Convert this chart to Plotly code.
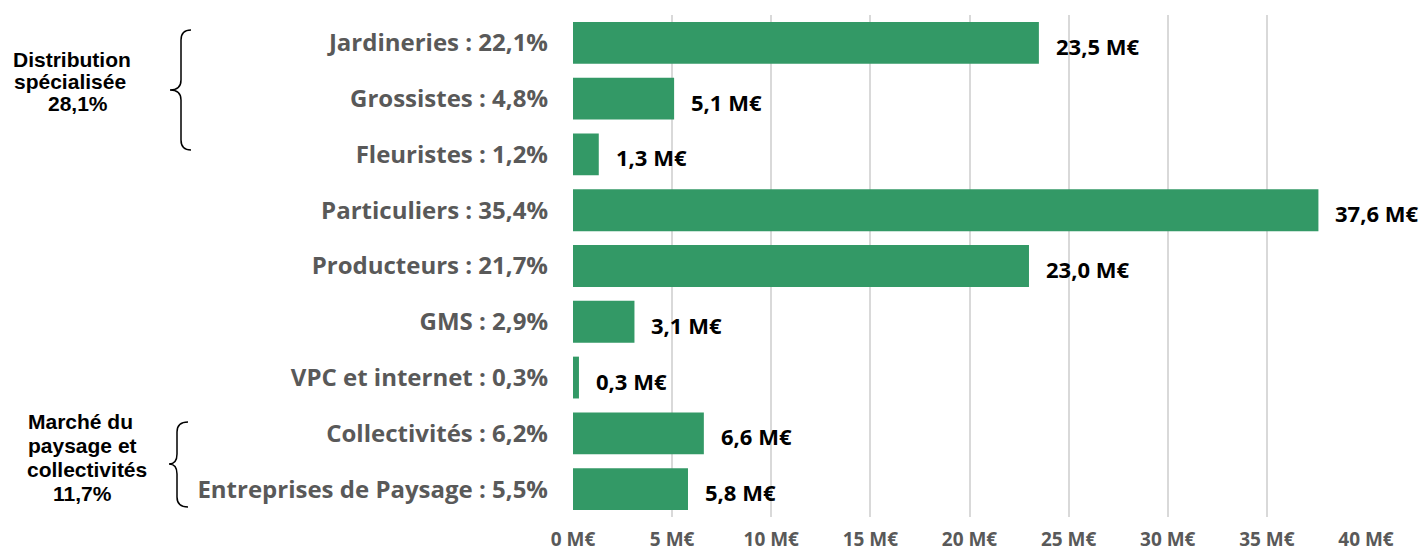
import plotly.graph_objects as go

categories = ["Jardineries : 22,1%", "Grossistes : 4,8%", "Fleuristes : 1,2%",
              "Particuliers : 35,4%", "Producteurs : 21,7%", "GMS : 2,9%",
              "VPC et internet : 0,3%", "Collectivités : 6,2%",
              "Entreprises de Paysage : 5,5%"]
values = [23.5, 5.1, 1.3, 37.6, 23.0, 3.1, 0.3, 6.6, 5.8]
value_labels = ["23,5 M€", "5,1 M€", "1,3 M€", "37,6 M€", "23,0 M€",
                "3,1 M€", "0,3 M€", "6,6 M€", "5,8 M€"]
tick_vals = [0, 5, 10, 15, 20, 25, 30, 35, 40]
tick_text = ["0 M€", "5 M€", "10 M€", "15 M€", "20 M€", "25 M€", "30 M€", "35 M€", "40 M€"]
group1_lines = ["Distribution", "spécialisée", "28,1%"]
group2_lines = ["Marché du", "paysage et", "collectivités", "11,7%"]

OFF = 0  # page body margin removed via post_script
W, H = 1419, 551
# desired screen positions of plot area
SL, SR, ST, SB = 573, 1366, 15, 517
L, T = SL - OFF, ST - OFF
R = W - (SR - OFF)
B = H - (SB - OFF)
PW, PH = SR - SL, SB - ST


def px(x):
    return (x - SL) / PW


def py(y):
    return (SB - y) / PH


def brace(x0, xv, xt, y0, ym, y1):
    r = 10
    pts = [
        f"M {px(x0)},{py(y0)}",
        f"Q {px(xv)},{py(y0)} {px(xv)},{py(y0 + r)}",
        f"L {px(xv)},{py(ym - r)}",
        f"Q {px(xv)},{py(ym)} {px(xt)},{py(ym)}",
        f"Q {px(xv)},{py(ym)} {px(xv)},{py(ym + r)}",
        f"L {px(xv)},{py(y1 - r)}",
        f"Q {px(xv)},{py(y1)} {px(x0)},{py(y1)}",
    ]
    return dict(type="path", xref="paper", yref="paper", path=" ".join(pts),
                line=dict(color="black", width=1.5))


FONT = "Open Sans"
fig = go.Figure()
fig.add_trace(go.Bar(
    x=values, y=categories, orientation="h",
    marker=dict(color="#339966", line=dict(width=0)),
    width=0.75, hoverinfo="skip",
))

annotations = []
for c, v, t in zip(categories, values, value_labels):
    annotations.append(dict(x=v, y=c, xref="x", yref="y", text=t, showarrow=False,
                            xanchor="left", yanchor="middle", xshift=15, yshift=-3,
                            font=dict(family=FONT, size=22, color="black", weight="bold")))

gfont = dict(family="Liberation Sans", size=21, color="black", weight="bold")
for line, cx, cy in zip(group1_lines, [72, 70, 78], [59, 81, 104]):
    annotations.append(dict(x=px(cx), y=py(cy), xref="paper", yref="paper", text=line,
                            showarrow=False, xanchor="center", yanchor="middle", font=gfont))
for line, cx, cy in zip(group2_lines, [80, 82, 87, 82], [421, 445, 469, 493]):
    annotations.append(dict(x=px(cx), y=py(cy), xref="paper", yref="paper", text=line,
                            showarrow=False, xanchor="center", yanchor="middle", font=gfont))

fig.update_layout(
    width=W, height=H,
    margin=dict(l=L, r=R, t=T, b=B, autoexpand=False),
    plot_bgcolor="white", paper_bgcolor="white",
    showlegend=False,
    bargap=0.25,
    xaxis=dict(range=[0, 40], tickvals=tick_vals, ticktext=tick_text,
               showgrid=True, gridcolor="#d9d9d9", gridwidth=2,
               zeroline=False, showline=False, ticks="", fixedrange=True,
               ticklabelstandoff=9,
               tickfont=dict(family=FONT, size=19, color="#595959", weight="bold")),
    yaxis=dict(autorange="reversed", showgrid=False, zeroline=False, showline=False,
               ticks="", ticklabelstandoff=24, fixedrange=True,
               tickfont=dict(family=FONT, size=24, color="#595959", weight="bold")),
    annotations=annotations,
    shapes=[brace(191, 181, 170, 30, 90, 150), brace(188, 177, 169, 422, 464, 507)],
)

fig.write_html("out.html", config={"displayModeBar": False},
               post_script="document.body.style.margin='0';")
